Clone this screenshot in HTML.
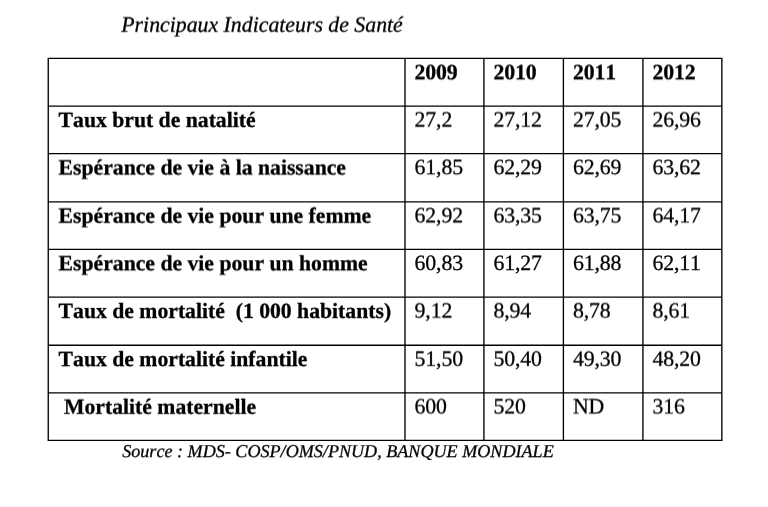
<!DOCTYPE html><html><head><meta charset="utf-8"><title>Principaux Indicateurs de Santé</title><style>
html,body{margin:0;padding:0;background:#fff;}body{width:768px;height:507px;position:relative;overflow:hidden;font-family:"Liberation Serif",serif;color:#000;font-kerning:none;font-feature-settings:"kern" 0,"liga" 0;text-rendering:geometricPrecision;}
#w{position:absolute;left:0;top:0;width:768px;height:507px;will-change:transform;opacity:0.999;}
.t{position:absolute;white-space:nowrap;font-size:21.8px;line-height:24px;-webkit-text-stroke:0.3px #000;}
.n{letter-spacing:-0.15px;}.b{font-weight:bold;}.i{font-style:italic;}
.h{position:absolute;background:#000;height:1.35px;}.v{position:absolute;background:#000;width:1.35px;}
</style></head><body>
<svg width="0" height="0" style="position:absolute"><defs>
<filter id="s10" x="-5%" y="-30%" width="110%" height="160%" color-interpolation-filters="sRGB"><feConvolveMatrix order="1 2" kernelMatrix="0.90 0.10" targetY="1" edgeMode="none" preserveAlpha="false"/></filter>
<filter id="s20" x="-5%" y="-30%" width="110%" height="160%" color-interpolation-filters="sRGB"><feConvolveMatrix order="1 2" kernelMatrix="0.80 0.20" targetY="1" edgeMode="none" preserveAlpha="false"/></filter>
<filter id="s30" x="-5%" y="-30%" width="110%" height="160%" color-interpolation-filters="sRGB"><feConvolveMatrix order="1 2" kernelMatrix="0.70 0.30" targetY="1" edgeMode="none" preserveAlpha="false"/></filter>
<filter id="s40" x="-5%" y="-30%" width="110%" height="160%" color-interpolation-filters="sRGB"><feConvolveMatrix order="1 2" kernelMatrix="0.60 0.40" targetY="1" edgeMode="none" preserveAlpha="false"/></filter>
<filter id="s45" x="-5%" y="-30%" width="110%" height="160%" color-interpolation-filters="sRGB"><feConvolveMatrix order="1 2" kernelMatrix="0.55 0.45" targetY="1" edgeMode="none" preserveAlpha="false"/></filter>
<filter id="s50" x="-5%" y="-30%" width="110%" height="160%" color-interpolation-filters="sRGB"><feConvolveMatrix order="1 2" kernelMatrix="0.50 0.50" targetY="1" edgeMode="none" preserveAlpha="false"/></filter>
<filter id="s60" x="-5%" y="-30%" width="110%" height="160%" color-interpolation-filters="sRGB"><feConvolveMatrix order="1 2" kernelMatrix="0.40 0.60" targetY="1" edgeMode="none" preserveAlpha="false"/></filter>
<filter id="s70" x="-5%" y="-30%" width="110%" height="160%" color-interpolation-filters="sRGB"><feConvolveMatrix order="1 2" kernelMatrix="0.30 0.70" targetY="1" edgeMode="none" preserveAlpha="false"/></filter>
<filter id="s75" x="-5%" y="-30%" width="110%" height="160%" color-interpolation-filters="sRGB"><feConvolveMatrix order="1 2" kernelMatrix="0.25 0.75" targetY="1" edgeMode="none" preserveAlpha="false"/></filter>
<filter id="s80" x="-5%" y="-30%" width="110%" height="160%" color-interpolation-filters="sRGB"><feConvolveMatrix order="1 2" kernelMatrix="0.20 0.80" targetY="1" edgeMode="none" preserveAlpha="false"/></filter>
<filter id="s90" x="-5%" y="-30%" width="110%" height="160%" color-interpolation-filters="sRGB"><feConvolveMatrix order="1 2" kernelMatrix="0.10 0.90" targetY="1" edgeMode="none" preserveAlpha="false"/></filter>
</defs></svg>
<div id="w">
<svg style="position:absolute;left:0;top:0" width="768" height="507" viewBox="0 0 768 507" shape-rendering="geometricPrecision"><path d="M47.58 58.40H722.52M47.58 106.05H722.52M47.58 153.60H722.52M47.58 201.85H722.52M47.58 249.40H722.52M47.58 297.05H722.52M47.58 345.20H722.52M47.58 392.85H722.52M47.58 440.38H722.52M48.25 57.73V441.06M405.00 57.73V441.06M483.90 57.73V441.06M563.40 57.73V441.06M642.92 57.73V441.06M721.85 57.73V441.06" fill="none" stroke="#000" stroke-width="1.35"/></svg>
<div class="t i" style="left:121.30px;top:12px;filter:url(#s70)">Principaux Indicateurs de Santé</div>
<div class="t i" style="left:122.20px;top:439px;font-size:18.12px;filter:url(#s10)">Source : MDS- COSP/OMS/PNUD, BANQUE MONDIALE</div>
<div class="t b n" style="left:414.60px;top:60px;filter:url(#s30)">2009</div>
<div class="t b n" style="left:493.50px;top:60px;filter:url(#s30)">2010</div>
<div class="t b n" style="left:573.00px;top:60px;filter:url(#s30)">2011</div>
<div class="t b n" style="left:652.52px;top:60px;filter:url(#s30)">2012</div>
<div class="t b" style="left:58.60px;top:107px;font-size:21.7px;filter:url(#s90)">Taux brut de natalité</div>
<div class="t n" style="left:414.60px;top:107px;filter:url(#s60)">27,2</div>
<div class="t n" style="left:493.50px;top:107px;filter:url(#s60)">27,12</div>
<div class="t n" style="left:573.00px;top:107px;filter:url(#s60)">27,05</div>
<div class="t n" style="left:652.52px;top:107px;filter:url(#s60)">26,96</div>
<div class="t b" style="left:58.60px;top:155px;font-size:21.7px;filter:url(#s50)">Espérance de vie à la naissance</div>
<div class="t n" style="left:414.60px;top:155px;filter:url(#s20)">61,85</div>
<div class="t n" style="left:493.50px;top:155px;filter:url(#s20)">62,29</div>
<div class="t n" style="left:573.00px;top:155px;filter:url(#s20)">62,69</div>
<div class="t n" style="left:652.52px;top:155px;filter:url(#s20)">63,62</div>
<div class="t b" style="left:58.60px;top:203px;font-size:21.7px;filter:url(#s70)">Espérance de vie pour une femme</div>
<div class="t n" style="left:414.60px;top:203px;filter:url(#s40)">62,92</div>
<div class="t n" style="left:493.50px;top:203px;filter:url(#s40)">63,35</div>
<div class="t n" style="left:573.00px;top:203px;filter:url(#s40)">63,75</div>
<div class="t n" style="left:652.52px;top:203px;filter:url(#s40)">64,17</div>
<div class="t b" style="left:58.60px;top:251px;font-size:21.7px;filter:url(#s30)">Espérance de vie pour un homme</div>
<div class="t n" style="left:414.60px;top:251px">60,83</div>
<div class="t n" style="left:493.50px;top:251px">61,27</div>
<div class="t n" style="left:573.00px;top:251px">61,88</div>
<div class="t n" style="left:652.52px;top:251px">62,11</div>
<div class="t b" style="left:58.60px;top:298px;font-size:21.7px;filter:url(#s90)">Taux de mortalité&nbsp; (1 000 habitants)</div>
<div class="t n" style="left:414.60px;top:298px;filter:url(#s60)">9,12</div>
<div class="t n" style="left:493.50px;top:298px;filter:url(#s60)">8,94</div>
<div class="t n" style="left:573.00px;top:298px;filter:url(#s60)">8,78</div>
<div class="t n" style="left:652.52px;top:298px;filter:url(#s60)">8,61</div>
<div class="t b" style="left:58.60px;top:347px;font-size:21.7px;filter:url(#s10)">Taux de mortalité infantile</div>
<div class="t n" style="left:414.60px;top:346px;filter:url(#s80)">51,50</div>
<div class="t n" style="left:493.50px;top:346px;filter:url(#s80)">50,40</div>
<div class="t n" style="left:573.00px;top:346px;filter:url(#s80)">49,30</div>
<div class="t n" style="left:652.52px;top:346px;filter:url(#s80)">48,20</div>
<div class="t b" style="left:64.00px;top:394px;font-size:21.7px;filter:url(#s75)">Mortalité maternelle</div>
<div class="t n" style="left:414.60px;top:394px;filter:url(#s45)">600</div>
<div class="t n" style="left:493.50px;top:394px;filter:url(#s45)">520</div>
<div class="t n" style="left:573.00px;top:394px;filter:url(#s45)">ND</div>
<div class="t n" style="left:652.52px;top:394px;filter:url(#s45)">316</div>
</div></body></html>
